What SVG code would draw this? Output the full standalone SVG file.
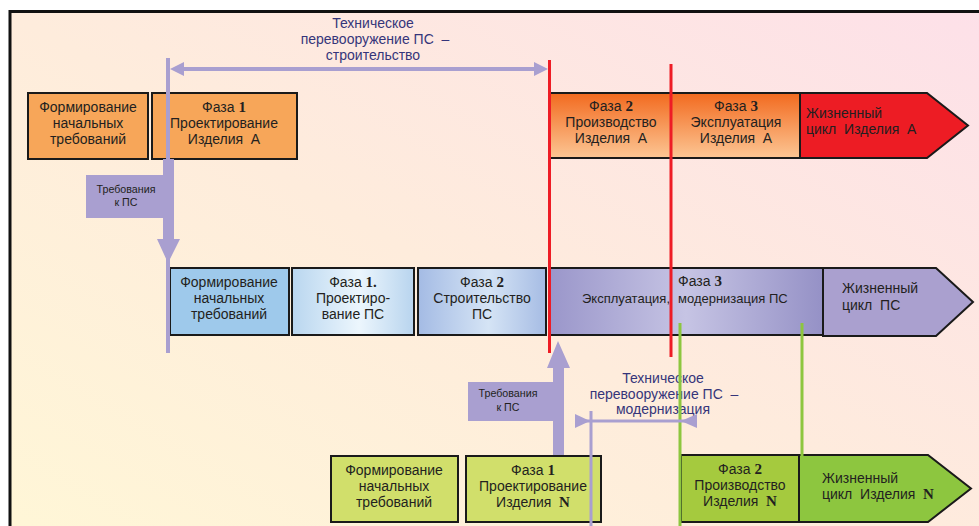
<svg xmlns="http://www.w3.org/2000/svg" width="979" height="526" viewBox="0 0 979 526">
<defs>
<linearGradient id="bg" x1="0" y1="1" x2="1" y2="0">
<stop offset="0" stop-color="#fff8d6"/>
<stop offset="0.5" stop-color="#feecdc"/>
<stop offset="1" stop-color="#fde0e9"/>
</linearGradient>
<linearGradient id="gOrange" x1="0" y1="0" x2="0" y2="1">
<stop offset="0" stop-color="#f26a1f"/>
<stop offset="1" stop-color="#fcc694"/>
</linearGradient>
<linearGradient id="gBlue1" x1="0" y1="0" x2="1" y2="0">
<stop offset="0" stop-color="#b9d6ef"/>
<stop offset="0.55" stop-color="#ecf6fd"/>
<stop offset="1" stop-color="#b8d4ee"/>
</linearGradient>
<linearGradient id="gBlue2" x1="0" y1="0" x2="1" y2="0">
<stop offset="0" stop-color="#a4bbe4"/>
<stop offset="0.55" stop-color="#d5e4f5"/>
<stop offset="1" stop-color="#a6bce4"/>
</linearGradient>
<linearGradient id="gPurple" x1="0" y1="0" x2="1" y2="0">
<stop offset="0" stop-color="#9a96ca"/>
<stop offset="0.5" stop-color="#c6c4e4"/>
<stop offset="1" stop-color="#9591c6"/>
</linearGradient>
</defs>
<style>
.box{stroke:#1a1a1a;stroke-width:2}
.t{font-family:"Liberation Sans","Open Sans",Arial,sans-serif;font-size:14px;fill:#231f20}
.c{text-anchor:middle}
.n{font-family:"Liberation Serif","Times New Roman",serif;font-weight:bold;font-size:15px}
.s{font-family:"Liberation Sans",Arial,sans-serif;font-size:10.7px;fill:#231f20;text-anchor:middle}
.ttl{font-family:"Liberation Sans","Open Sans",Arial,sans-serif;font-size:14px;fill:#35357a;text-anchor:middle}
.lav{stroke:#a99fd0;fill:none}
.lavf{fill:#a99fd0}
.red{stroke:#ee1c25;stroke-width:3}
.grn{stroke:#8dc63f;stroke-width:3}
</style>
<rect x="10" y="11.5" width="1000" height="600" fill="url(#bg)" stroke="#111" stroke-width="3"/>

<!-- Top row: Product A -->
<g id="a-req">
<rect class="box" x="28" y="93" width="120" height="66" fill="#f7a659"/>
<text class="t c" x="88" y="112">Формирование<tspan x="88" y="128">начальных</tspan><tspan x="88" y="144">требований</tspan></text>
</g>
<g id="a-phase1">
<rect class="box" x="152" y="93" width="145" height="66" fill="#f7a659"/>
<text class="t c" x="224" y="112">Фаза <tspan class="n">1</tspan><tspan x="224" y="128">Проектирование</tspan><tspan x="224" y="144">Изделия&#160; А</tspan></text>
</g>
<g id="a-phase2">
<rect class="box" x="550" y="93" width="121" height="65" fill="url(#gOrange)"/>
<text class="t c" x="611" y="111">Фаза <tspan class="n">2</tspan><tspan x="611" y="127">Производство</tspan><tspan x="611" y="143">Изделия&#160; А</tspan></text>
</g>
<g id="a-phase3">
<rect class="box" x="671" y="93" width="129" height="65" fill="url(#gOrange)"/>
<text class="t c" x="736" y="111">Фаза <tspan class="n">3</tspan><tspan x="736" y="127">Эксплуатация</tspan><tspan x="736" y="143">Изделия&#160; А</tspan></text>
</g>
<g id="a-life">
<polygon class="box" points="800,93 927,93 968,125.5 927,158 800,158" fill="#ed1c24"/>
<text class="t" x="806" y="118">Жизненный<tspan x="806" y="134">цикл&#160; Изделия&#160; А</tspan></text>
</g>

<!-- Middle row: PS -->
<g id="ps-req">
<rect class="box" x="170" y="268" width="119" height="67" fill="#9ec9eb"/>
<text class="t c" x="229" y="287">Формирование<tspan x="229" y="303">начальных</tspan><tspan x="229" y="319">требований</tspan></text>
</g>
<g id="ps-phase1">
<rect class="box" x="292" y="268" width="122" height="67" fill="url(#gBlue1)"/>
<text class="t c" x="353" y="287">Фаза <tspan class="n">1.</tspan><tspan x="353" y="303">Проектиро-</tspan><tspan x="353" y="319">вание ПС</tspan></text>
</g>
<g id="ps-phase2">
<rect class="box" x="418" y="268" width="128" height="67" fill="url(#gBlue2)"/>
<text class="t c" x="482" y="287">Фаза <tspan class="n">2</tspan><tspan x="482" y="303">Строительство</tspan><tspan x="482" y="319">ПС</tspan></text>
</g>
<g id="ps-phase3">
<rect class="box" x="549" y="268" width="274" height="67" fill="url(#gPurple)"/>
<text class="t" x="678" y="286">Фаза <tspan class="n">3</tspan></text>
<text class="t" x="582" y="303" style="font-size:13px">Эксплуатация,<tspan x="678">модернизация ПС</tspan></text>
</g>
<g id="ps-life">
<polygon class="box" points="823,268 936,268 973,302 936,336 823,336" fill="#aaa0cf"/>
<text class="t" x="842" y="293">Жизненный<tspan x="842" y="310">цикл&#160; ПС</tspan></text>
</g>

<!-- Bottom row: Product N -->
<g id="n-req">
<rect class="box" x="331" y="456" width="127" height="66" fill="#d1df6b"/>
<text class="t c" x="394" y="475">Формирование<tspan x="394" y="491">начальных</tspan><tspan x="394" y="507">требований</tspan></text>
</g>
<g id="n-phase1">
<rect class="box" x="466" y="456" width="135" height="66" fill="#d1df6b"/>
<text class="t c" x="533" y="475">Фаза <tspan class="n">1</tspan><tspan x="533" y="491">Проектирование</tspan><tspan x="533" y="507">Изделия&#160; <tspan class="n">N</tspan></tspan></text>
</g>
<g id="n-phase2">
<rect class="box" x="681" y="455" width="118" height="67" fill="#a5ca3e"/>
<text class="t c" x="740" y="474">Фаза <tspan class="n">2</tspan><tspan x="740" y="490">Производство</tspan><tspan x="740" y="506">Изделия&#160; <tspan class="n">N</tspan></tspan></text>
</g>
<g id="n-life">
<polygon class="box" points="799,455 928,455 971,488.5 928,522 799,522" fill="#8dc63f"/>
<text class="t" x="822" y="483">Жизненный<tspan x="822" y="499">цикл&#160; Изделия&#160; <tspan class="n">N</tspan></tspan></text>
</g>

<!-- Callouts -->
<g id="req-ps-top">
<path class="lavf" d="M86,175 H163 V159 H174 V239 H180 L168,263 L157,239 H163 V218 H86 Z"/>
<text class="s" x="126" y="193">Требования<tspan x="126" y="206">к ПС</tspan></text>
</g>
<g id="req-ps-bottom">
<path class="lavf" d="M468,382 H553 V368 H547 L558,341 L570,368 H564 V455 H553 V421 H468 Z"/>
<text class="s" x="508" y="397">Требования<tspan x="508" y="411">к ПС</tspan></text>
</g>

<g id="label-build">
<text class="ttl" x="373" y="28">Техническое<tspan x="375" y="44">перевооружение ПС&#160; –</tspan><tspan x="373" y="60">строительство</tspan></text>
</g>
<g id="label-modern">
<text class="ttl" x="663" y="383">Техническое<tspan x="664" y="399">перевооружение ПС&#160; –</tspan><tspan x="663" y="414">модернизация</tspan></text>
</g>

<!-- Connectors -->
<g id="connectors">
<line class="lav" x1="168" y1="58" x2="168" y2="353" stroke-width="4"/>
<line class="lav" x1="180" y1="69" x2="538" y2="69" stroke-width="4"/>
<polygon class="lavf" points="170,69 184,62 184,76"/>
<polygon class="lavf" points="548,69 534,62 534,76"/>
<line class="red" x1="549.5" y1="60" x2="549.5" y2="353"/>
<line class="red" x1="671" y1="64" x2="671" y2="357"/>
<line class="grn" x1="680" y1="323" x2="680" y2="526"/>
<line class="grn" x1="802" y1="323" x2="802" y2="456"/>
<line class="lav" x1="591" y1="411" x2="591" y2="526" stroke-width="3"/>
<line class="lav" x1="576" y1="421" x2="697" y2="421" stroke-width="3"/>
<polygon class="lavf" points="575,414 575,428 590,421"/>
<polygon class="lavf" points="697,414 697,428 681,421"/>
</g>
</svg>
